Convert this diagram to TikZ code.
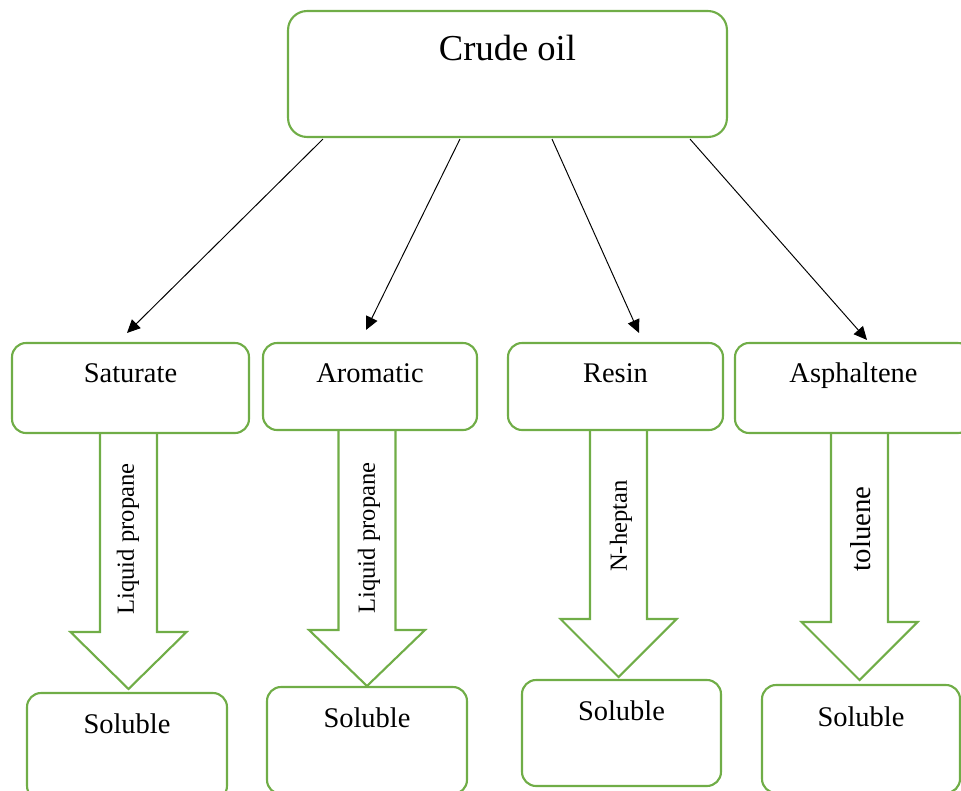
\documentclass[tikz,border=0pt]{standalone}
\usepackage{fontspec}
\setmainfont{Liberation Serif}
\usepackage{xcolor}
\usetikzlibrary{calc,positioning,arrows.meta}
\definecolor{verdeBox}{RGB}{112,173,71}

\begin{document}
\begin{tikzpicture}[x=0.02cm, y=-0.02cm,
  cajaBox/.style={draw=verdeBox, line width=1.2pt, rounded corners=0.28cm,
    inner sep=0pt, anchor=base, font=\fontsize{16.2}{19}\selectfont},
  flecha/.style={-{Triangle[length=7.5pt,width=7pt]}, line width=0.55pt},
  flechaBloque/.style={draw=verdeBox, line width=1.2pt},
  solvente/.style={rotate=90, inner sep=0pt, font=\fontsize{14}{17}\selectfont}]
  \clip (0,0) rectangle (961,791);
  % Crude oil box
  \node[cajaBox, rounded corners=0.38cm, minimum width=8.78cm,
    text height=0.98cm, text depth=1.54cm, font=\fontsize{20.8}{25}\selectfont]
    (crudo) at (507.5,60) {Crude oil};
  % Fractions
  \node[cajaBox, minimum width=4.74cm, text height=0.78cm, text depth=1.02cm]
    (saturado) at (130.5,382) {Saturate};
  \node[cajaBox, minimum width=4.28cm, text height=0.78cm, text depth=0.96cm]
    (aromatico) at (370,382) {Aromatic};
  \node[cajaBox, minimum width=4.30cm, text height=0.78cm, text depth=0.96cm]
    (resina) at (615.5,382) {Resin};
  \node[cajaBox, minimum width=4.74cm, text height=0.78cm, text depth=1.02cm]
    (asfalteno) at (853.5,382) {Asphaltene};
  % Thin arrows from crude oil
  \draw[flecha] ($(crudo.south west)+(36,1)$) -- ($(saturado.north)+(-3.5,-9)$);
  \draw[flecha] ($(crudo.south west)+(173,1)$) -- ($(aromatico.north)+(-4,-12)$);
  \draw[flecha] ($(crudo.south west)+(265,1)$) -- ($(resina.north)+(23.5,-9)$);
  \draw[flecha] ($(crudo.south west)+(403,1)$) -- ($(asfalteno.north)+(13.5,-2)$);
  % Soluble boxes
  \node[cajaBox, minimum width=4.00cm, text height=0.80cm, text depth=1.34cm]
    (soluble1) at (127,733) {Soluble};
  \node[cajaBox, minimum width=4.00cm, text height=0.80cm, text depth=1.34cm]
    (soluble2) at (367,727) {Soluble};
  \node[cajaBox, minimum width=3.98cm, text height=0.80cm, text depth=1.32cm]
    (soluble3) at (621.5,720) {Soluble};
  \node[cajaBox, minimum width=3.96cm, text height=0.82cm, text depth=1.34cm]
    (soluble4) at (861,726) {Soluble};
  % Block arrows (solvents)
  \foreach \cx/\ytop/\yhom/\ytip in {128.5/433/632/689, 367/431/630/686,
      618.5/430/619/677, 859.5/433/622/680}
    \draw[flechaBloque] ({\cx-28.5},\ytop) -- ({\cx-28.5},\yhom) -- ({\cx-58},\yhom)
      -- (\cx,\ytip) -- ({\cx+58},\yhom) -- ({\cx+28.5},\yhom) -- ({\cx+28.5},\ytop);
  \node[solvente] (propano1) at (128,539) {Liquid propane};
  \node[solvente] (propano2) at (369,538) {Liquid propane};
  \node[solvente] (heptano) at (621,526) {N-heptan};
  \node[solvente, font=\fontsize{16.4}{19}\selectfont] (tolueno) at (861,529) {toluene};
\end{tikzpicture}
\end{document}
